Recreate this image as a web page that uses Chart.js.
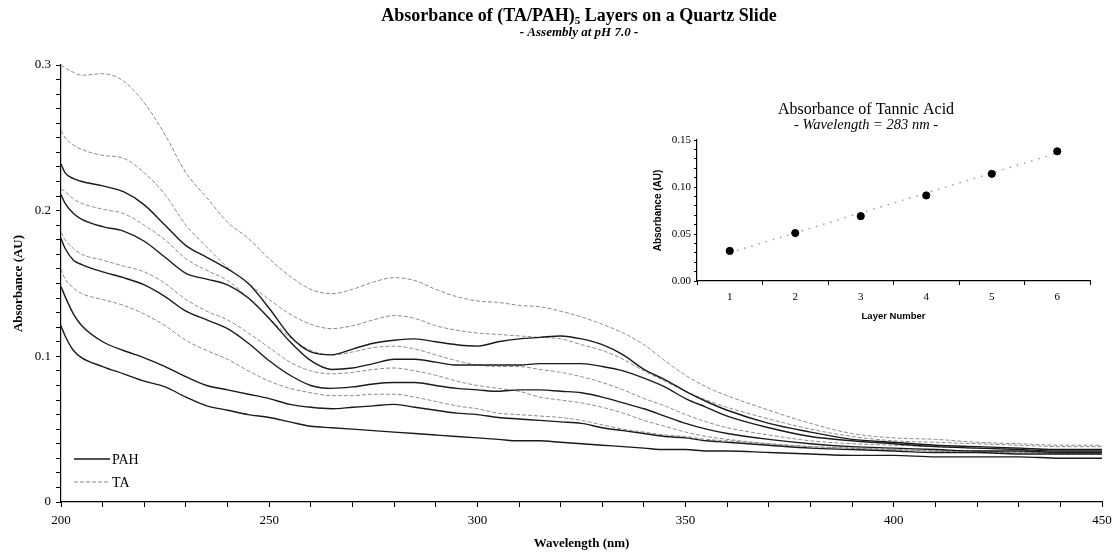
<!DOCTYPE html>
<html>
<head>
<meta charset="utf-8">
<script src="https://cdn.jsdelivr.net/npm/chart.js@4.4.1/dist/chart.umd.min.js"></script>
<style>
html,body{margin:0;padding:0;background:#fff;}
#wrap{position:relative;width:1112px;height:553px;overflow:hidden;}
#mainBox{position:absolute;left:0;top:0;width:1112px;height:553px;}
#insetBox{position:absolute;left:620px;top:95px;width:490px;height:235px;}
</style>
</head>
<body>
<div id="wrap">
  <div id="mainBox"><canvas id="main"></canvas></div>
  <div id="insetBox"><canvas id="inset"></canvas></div>
</div>
<script>
// ---------- data ----------
const wavelengths = [200,201,203,205,210,215,220,225,230,235,240,245,250,255,260,265,270,275,280,285,290,295,300,305,310,315,320,325,330,335,340,345,350,355,360,370,380,390,400,410,420,430,440,450];

// PAH spectra (solid black), lowest to highest at 200 nm
const pah1 = [0.121,0.114,0.104,0.099,0.093,0.088,0.083,0.079,0.072,0.066,0.063,0.060,0.058,0.055,0.052,0.051,0.050,0.049,0.048,0.047,0.046,0.045,0.044,0.043,0.042,0.042,0.041,0.040,0.039,0.038,0.037,0.036,0.036,0.035,0.035,0.034,0.033,0.032,0.032,0.031,0.031,0.031,0.030,0.030];
const pah2 = [0.148,0.141,0.129,0.121,0.110,0.104,0.099,0.093,0.086,0.080,0.077,0.074,0.071,0.067,0.065,0.064,0.065,0.066,0.067,0.065,0.063,0.061,0.060,0.058,0.057,0.056,0.055,0.054,0.051,0.049,0.047,0.045,0.044,0.042,0.041,0.039,0.037,0.036,0.035,0.034,0.034,0.033,0.033,0.033];
const pah3 = [0.181,0.174,0.166,0.163,0.158,0.154,0.149,0.141,0.131,0.125,0.119,0.109,0.097,0.087,0.080,0.078,0.079,0.081,0.082,0.082,0.080,0.078,0.077,0.076,0.077,0.077,0.076,0.075,0.072,0.068,0.064,0.059,0.054,0.050,0.047,0.043,0.040,0.038,0.037,0.036,0.035,0.035,0.034,0.034];
const pah4 = [0.211,0.205,0.198,0.194,0.189,0.186,0.179,0.168,0.157,0.153,0.149,0.140,0.126,0.110,0.097,0.091,0.092,0.095,0.098,0.098,0.096,0.094,0.094,0.094,0.094,0.095,0.095,0.095,0.093,0.090,0.085,0.079,0.071,0.065,0.059,0.051,0.045,0.042,0.040,0.038,0.037,0.036,0.035,0.035];
const pah5 = [0.232,0.226,0.222,0.220,0.217,0.213,0.204,0.190,0.176,0.168,0.160,0.150,0.133,0.114,0.103,0.101,0.105,0.109,0.111,0.112,0.110,0.108,0.107,0.110,0.112,0.113,0.114,0.112,0.108,0.101,0.091,0.084,0.076,0.069,0.063,0.054,0.048,0.043,0.041,0.039,0.038,0.037,0.036,0.036];

// TA spectra (grey dashed), lowest to highest at 200 nm
const ta1 = [0.160,0.153,0.147,0.143,0.139,0.135,0.129,0.121,0.111,0.104,0.098,0.090,0.083,0.078,0.075,0.073,0.073,0.074,0.074,0.072,0.069,0.066,0.064,0.061,0.060,0.059,0.058,0.056,0.053,0.050,0.048,0.046,0.045,0.043,0.042,0.040,0.038,0.037,0.036,0.035,0.034,0.034,0.033,0.033];
const ta2 = [0.185,0.180,0.174,0.170,0.166,0.162,0.158,0.150,0.139,0.131,0.125,0.116,0.106,0.096,0.090,0.088,0.089,0.091,0.092,0.090,0.087,0.083,0.080,0.078,0.076,0.072,0.070,0.068,0.065,0.061,0.056,0.052,0.048,0.045,0.043,0.040,0.038,0.037,0.036,0.035,0.035,0.034,0.034,0.034];
const ta3 = [0.215,0.213,0.208,0.205,0.201,0.198,0.190,0.180,0.167,0.159,0.152,0.140,0.126,0.113,0.104,0.101,0.103,0.106,0.107,0.105,0.101,0.097,0.094,0.093,0.093,0.091,0.089,0.086,0.082,0.077,0.071,0.066,0.060,0.055,0.051,0.046,0.042,0.040,0.039,0.038,0.037,0.037,0.036,0.036];
const ta4 = [0.255,0.250,0.245,0.242,0.238,0.236,0.226,0.211,0.190,0.175,0.161,0.150,0.139,0.129,0.122,0.119,0.121,0.125,0.128,0.126,0.121,0.118,0.116,0.115,0.114,0.113,0.112,0.108,0.104,0.098,0.090,0.083,0.076,0.070,0.065,0.057,0.050,0.045,0.042,0.041,0.040,0.039,0.038,0.038];
const ta5 = [0.300,0.298,0.295,0.293,0.294,0.289,0.274,0.252,0.226,0.209,0.192,0.181,0.167,0.155,0.146,0.143,0.146,0.151,0.154,0.152,0.146,0.141,0.138,0.137,0.135,0.134,0.131,0.127,0.122,0.116,0.108,0.097,0.087,0.079,0.073,0.063,0.054,0.047,0.044,0.043,0.041,0.040,0.039,0.039];

// inset: absorbance of tannic acid at 283 nm vs layer number
const layerNumbers = ['1','2','3','4','5','6'];
const taAbs283 = [0.032,0.051,0.069,0.091,0.114,0.138];
const trendLayers = ['1','6'];
const trendAbs = [0.030,0.136];

// axis tick labels
const mainYTickLabels = ['0','0.1','0.2','0.3'];
const mainXTickLabels = ['200','250','300','350','400','450'];

// ---------- styles ----------
const SERIF = '"Liberation Serif", "Times New Roman", serif';
const SANS = '"Liberation Sans", Arial, sans-serif';
const PAH_STYLE = {borderColor:'#1a1a1a', borderWidth:1.4, borderDash:[]};
const TA_STYLE = {borderColor:'#8c8c8c', borderWidth:1, borderDash:[4,2]};

function toXY(arr){ return arr.map((v,i)=>({x:wavelengths[i], y:v})); }
function mk(label, arr, st){
  return Object.assign({label, data: toXY(arr), pointRadius:0, fill:false,
    cubicInterpolationMode:'monotone'}, st);
}

const datasets = [
  mk('PAH', pah1, PAH_STYLE), mk('PAH', pah2, PAH_STYLE), mk('PAH', pah3, PAH_STYLE),
  mk('PAH', pah4, PAH_STYLE), mk('PAH', pah5, PAH_STYLE),
  mk('TA', ta1, TA_STYLE), mk('TA', ta2, TA_STYLE), mk('TA', ta3, TA_STYLE),
  mk('TA', ta4, TA_STYLE), mk('TA', ta5, TA_STYLE)
];

function near(v, t){ return Math.abs(v - t) < 1e-6; }

const mainDecor = {
  id:'mainDecor',
  afterDraw(chart){
    const ctx = chart.ctx, ca = chart.chartArea;
    ctx.save();
    ctx.fillStyle = '#000';
    ctx.textBaseline = 'alphabetic';
    ctx.textAlign = 'left';
    // title with subscript
    const p1 = 'Absorbance of (TA/PAH)', sub = '5', p2 = ' Layers on a Quartz Slide';
    ctx.font = 'bold 18px ' + SERIF;
    const w1 = ctx.measureText(p1).width, w2 = ctx.measureText(p2).width;
    ctx.font = 'bold 11px ' + SERIF;
    const ws = ctx.measureText(sub).width;
    const cx = 579;
    let x0 = cx - (w1 + ws + w2) / 2;
    ctx.font = 'bold 18px ' + SERIF;
    ctx.fillText(p1, x0, 21);
    ctx.font = 'bold 11px ' + SERIF;
    ctx.fillText(sub, x0 + w1, 24);
    ctx.font = 'bold 18px ' + SERIF;
    ctx.fillText(p2, x0 + w1 + ws, 21);
    // subtitle
    ctx.textAlign = 'center';
    ctx.font = 'italic bold 13px ' + SERIF;
    ctx.fillText('- Assembly at pH 7.0 -', cx, 36);
    // legend
    const items = [{t:'PAH', s:PAH_STYLE, y:459}, {t:'TA', s:TA_STYLE, y:482}];
    ctx.textAlign = 'left';
    ctx.textBaseline = 'middle';
    ctx.font = '14px ' + SERIF;
    items.forEach(it=>{
      ctx.beginPath();
      ctx.strokeStyle = it.s.borderColor;
      ctx.lineWidth = it.s.borderWidth;
      ctx.setLineDash(it.s.borderDash);
      ctx.moveTo(74, it.y); ctx.lineTo(110, it.y);
      ctx.stroke();
      ctx.setLineDash([]);
      ctx.fillText(it.t, 112, it.y + 1);
    });
    ctx.restore();
  }
};

new Chart(document.getElementById('main'), {
  type:'line',
  data:{datasets},
  options:{
    responsive:true, maintainAspectRatio:false, animation:false,
    layout:{padding:{left:0, right:10, top:65, bottom:0}},
    plugins:{legend:{display:false}, title:{display:false}, tooltip:{enabled:false}},
    scales:{
      x:{type:'linear', min:200, max:450,
        ticks:{stepSize:10, autoSkip:false, maxRotation:0, color:'#000', padding:6,
          font:{family:SERIF, size:13},
          callback:(v)=> mainXTickLabels.includes(String(v)) ? String(v) : ''},
        grid:{drawOnChartArea:false, drawTicks:true, tickLength:5, color:'#000', lineWidth:1},
        border:{display:true, color:'#000', width:1.2},
        title:{display:true, text:'Wavelength (nm)', color:'#000', font:{family:SERIF, size:13, weight:'bold'}, padding:{top:0, bottom:2}},
        afterFit:(s)=>{ s.height = 51; s.paddingRight = 0; s.paddingLeft = 0; }
      },
      y:{type:'linear', min:0, max:0.3,
        ticks:{stepSize:0.01, autoSkip:false, color:'#000', padding:5,
          font:{family:SERIF, size:13},
          callback:(v)=>{ const l = mainYTickLabels.find(t=>near(parseFloat(t), v)); return l === undefined ? '' : l; }},
        grid:{drawOnChartArea:false, drawTicks:true, tickLength:5, color:'#000', lineWidth:1},
        border:{display:true, color:'#000', width:1.2},
        title:{display:true, text:'Absorbance (AU)', color:'#000', font:{family:SERIF, size:13, weight:'bold'}, padding:{top:11, bottom:0}},
        afterFit:(s)=>{ s.width = 61; }
      }
    }
  },
  plugins:[mainDecor]
});

// ---------- inset ----------
const insetDecor = {
  id:'insetDecor',
  afterDraw(chart){
    const ctx = chart.ctx;
    ctx.save();
    ctx.fillStyle = '#000';
    ctx.textAlign = 'center';
    ctx.textBaseline = 'middle';
    const cx = 246;
    ctx.font = '16px ' + SERIF;
    ctx.fillText('Absorbance of Tannic Acid', cx, 15);
    ctx.font = 'italic 14.5px ' + SERIF;
    ctx.fillText('- Wavelength = 283 nm -', cx, 30);
    ctx.restore();
  }
};

new Chart(document.getElementById('inset'), {
  type:'line',
  data:{
    labels: layerNumbers,
    datasets:[
      {label:'TA at 283 nm', data: taAbs283, showLine:false, pointRadius:3.6,
        pointBackgroundColor:'#000', pointBorderColor:'#000', pointStyle:'circle', order:0},
      {label:'Linear fit', data: trendLayers.map((l,i)=>({x:l, y:trendAbs[i]})), pointRadius:0,
        borderColor:'#9a9a9a', borderWidth:1.4, borderDash:[1.5,6], order:1}
    ]
  },
  options:{
    responsive:true, maintainAspectRatio:false, animation:false,
    layout:{padding:{left:0, right:20, top:45, bottom:0}},
    plugins:{legend:{display:false}, title:{display:false}, tooltip:{enabled:false}},
    scales:{
      x:{type:'category', offset:true,
        ticks:{color:'#000', padding:6, font:{family:SERIF, size:11}, maxRotation:0},
        grid:{offset:true, drawOnChartArea:false, drawTicks:true, tickLength:4, color:'#000'},
        border:{display:true, color:'#000', width:1.2},
        title:{display:true, text:'Layer Number', color:'#000', font:{family:SANS, size:9.5, weight:'bold'}, padding:{top:0, bottom:8}},
        afterFit:(s)=>{ s.height = 49; s.paddingRight = 0; s.paddingLeft = 0; }
      },
      y:{type:'linear', min:0, max:0.15,
        ticks:{stepSize:0.01, autoSkip:false, color:'#000', padding:3, font:{family:SERIF, size:11},
          callback:(v)=>{ const r = Math.round(v*100); return (r % 5 === 0) ? (r/100).toFixed(2) : ''; }},
        grid:{drawOnChartArea:false, drawTicks:true, tickLength:3, color:'#000'},
        border:{display:true, color:'#000', width:1.2},
        title:{display:true, text:'Absorbance (AU)', color:'#000', font:{family:SANS, size:10, weight:'bold'}, padding:{top:32, bottom:0}},
        afterFit:(s)=>{ s.width = 77; }
      }
    }
  },
  plugins:[insetDecor]
});
</script>
</body>
</html>
